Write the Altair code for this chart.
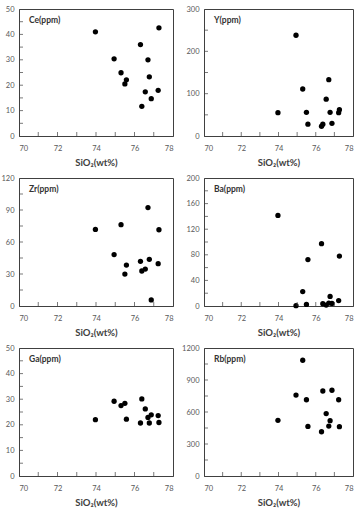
import altair as alt
import pandas as pd

# shared SiO2 values (wt%) of the samples
sio2 = [73.97, 74.94, 75.30, 75.50, 75.58, 76.31, 76.38, 76.56, 76.70, 76.77, 76.87, 77.23, 77.27]

ce = [41.0, 30.4, 24.9, 20.5, 22.1, 36.0, 11.7, 17.4, 30.0, 23.3, 14.7, 18.0, 42.6]
y_ppm = [55, 238, 111, 56, 28, 23, 28, 87, 133, 56, 30, 55, 62]
zr = [71.8, 48.2, 76.2, 29.9, 38.4, 41.9, 32.8, 34.6, 92.3, 43.8, 5.7, 39.7, 71.5]
ba = [141.6, 0.5, 22.6, 2.5, 72.5, 97.4, 3.5, 1.5, 4.5, 15.0, 4.0, 8.5, 78.0]
ga = [22.0, 29.2, 27.5, 28.4, 22.2, 20.7, 30.1, 26.2, 22.9, 20.7, 23.9, 23.6, 20.9]
rb = [522, 759, 1085, 715, 465, 415, 797, 585, 468, 519, 804, 715, 462]

series = [ce, y_ppm, zr, ba, ga, rb]
element_labels = ["Ce(ppm)", "Y(ppm)", "Zr(ppm)", "Ba(ppm)", "Ga(ppm)", "Rb(ppm)"]
y_max = [50, 300, 120, 200, 50, 1200]
y_step = [10, 100, 30, 40, 10, 300]

x_labels = [70, 72, 74, 76, 78]
x_minor = [71, 72, 73, 74, 75, 76, 77]
x_title = "SiO₂(wt%)"

FONT = "Lato"
FRAME = "#404040"


def panel(i, w, h):
    df = pd.DataFrame({"SiO2": sio2, "val": series[i]})
    xs = alt.Scale(domain=[70, 78], nice=False, zero=False)
    ys = alt.Scale(domain=[0, y_max[i]], nice=False)
    major = list(range(0, y_max[i] + 1, y_step[i]))
    half = y_step[i] // 2
    yticks = [v for v in range(half, y_max[i], half)]
    xax = alt.Axis(values=x_labels, format="d", title=x_title)
    yax = alt.Axis(values=major, format="d", title=None)

    pts = alt.Chart(df).mark_circle(size=28, color="black", opacity=1).encode(
        x=alt.X("SiO2:Q", scale=xs, axis=xax),
        y=alt.Y("val:Q", scale=ys, axis=yax),
    )
    xt = alt.Chart(pd.DataFrame({"SiO2": x_minor})).mark_tick(
        orient="vertical", size=4, thickness=1, color=FRAME
    ).encode(x=alt.X("SiO2:Q", scale=xs, axis=xax), y=alt.value(h - 2))
    yt = alt.Chart(pd.DataFrame({"val": yticks})).mark_tick(
        orient="horizontal", size=4, thickness=1, color=FRAME
    ).encode(y=alt.Y("val:Q", scale=ys, axis=yax), x=alt.value(2))
    txt = alt.Chart(pd.DataFrame({"lab": [element_labels[i]]})).mark_text(
        align="left", baseline="middle", fontWeight="bold", fontSize=8.5,
        font=FONT, color="#333333"
    ).encode(x=alt.value(10), y=alt.value(11), text="lab:N")
    return alt.layer(pts, xt, yt, txt).properties(width=w, height=h)


heights = [127, 128, 128]
panels = []
for r in range(3):
    panels.append(panel(2 * r, 154, heights[r]))
    panels.append(panel(2 * r + 1, 149, heights[r]))

chart = alt.concat(
    *panels, columns=2, spacing={"row": 42, "column": 31}, bounds="flush"
).properties(
    padding={"left": 0, "top": 4, "right": 4, "bottom": 4},
    background="white",
).configure_view(
    stroke=FRAME, strokeWidth=1
).configure_axis(
    labelFont=FONT, labelFontSize=7.5, labelColor="#595959",
    titleFont=FONT, titleFontSize=9.5, titleFontWeight="bold", titleColor="#404040",
    ticks=False, grid=False, domainColor=FRAME,
).configure_axisX(
    labelPadding=8, titlePadding=6
).configure_axisY(
    labelPadding=5
)

chart.save("out.html", embed_options={"renderer": "svg", "actions": False})
